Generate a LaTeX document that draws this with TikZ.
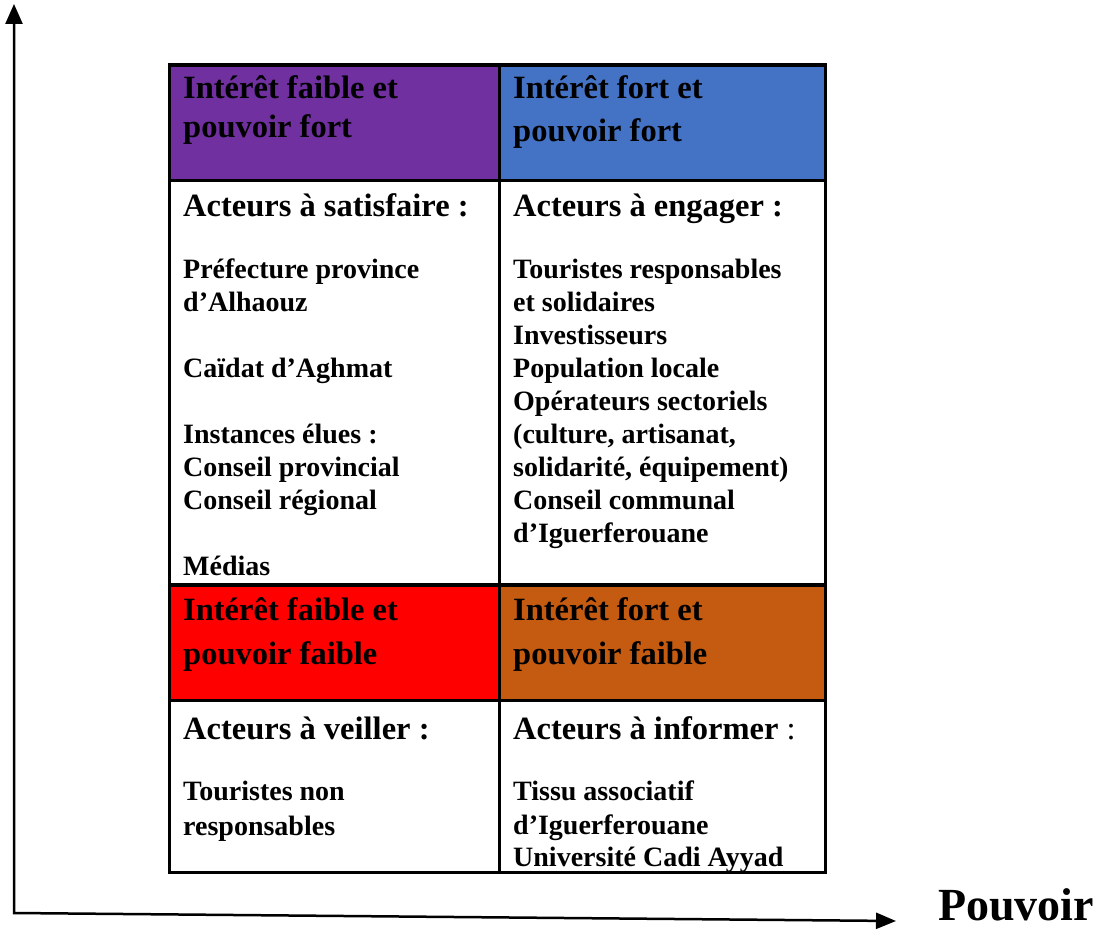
\documentclass[tikz,border=0pt]{standalone}
\usepackage{fontspec}
\setmainfont{Liberation Serif}
\usetikzlibrary{arrows.meta}
\definecolor{cpurple}{HTML}{7030A0}
\definecolor{cblue}{HTML}{4472C4}
\definecolor{cred}{HTML}{FF0000}
\definecolor{cbrown}{HTML}{C55A11}
\begin{document}
\begin{tikzpicture}[x=1pt,y=-1pt,
  cell/.style={draw=black, line width=3.5pt, inner sep=0pt, outer sep=0pt, anchor=north west},
  hd/.style={anchor=base west, inner sep=0pt, font=\fontsize{32.5}{38}\selectfont\bfseries},
  bd/.style={anchor=base west, inner sep=0pt, font=\fontsize{28}{33}\selectfont\bfseries},
  axis/.style={line width=2.5pt, line join=miter, {Triangle[length=20pt,width=17pt]}-{Triangle[length=20pt,width=16pt]}}]
\useasboundingbox (0,0) rectangle (1103,931);
% axes
\coordinate (O) at (14,913);
\coordinate (ytip) at (14,4);
\coordinate (xtip) at (896,921);
\draw[axis] (ytip) -- (O) -- (xtip);
\node[anchor=base west, inner sep=0pt, text depth=0pt, font=\fontsize{46}{54}\selectfont\bfseries] (pouvoir) at (938,920) {Pouvoir};
% cells
\node[cell, fill=cpurple, minimum width=330pt, minimum height=115.5pt] (h1) at (169.5,65) {};
\node[cell, fill=cblue, minimum width=326pt, minimum height=115.5pt] (h2) at (499.5,65) {};
\node[cell, fill=white, minimum width=330pt, minimum height=404.5pt] (b1) at (169.5,180.5) {};
\node[cell, fill=white, minimum width=326pt, minimum height=404.5pt] (b2) at (499.5,180.5) {};
\node[cell, fill=cred, minimum width=330pt, minimum height=115.5pt] (h3) at (169.5,585) {};
\node[cell, fill=cbrown, minimum width=326pt, minimum height=115.5pt] (h4) at (499.5,585) {};
\node[cell, fill=white, minimum width=330pt, minimum height=172pt] (b3) at (169.5,700.5) {};
\node[cell, fill=white, minimum width=326pt, minimum height=172pt] (b4) at (499.5,700.5) {};
% header texts
\node[hd] (h1a) at (183,99) {Intérêt faible et};
\node[hd] (h1b) at (183,138) {pouvoir fort};
\node[hd] (h2a) at (513,99) {Intérêt fort et};
\node[hd] (h2b) at (513,142) {pouvoir fort};
\node[hd] (h3a) at (183,620) {Intérêt faible et};
\node[hd] (h3b) at (183,664) {pouvoir faible};
\node[hd] (h4a) at (513,620) {Intérêt fort et};
\node[hd] (h4b) at (513,664) {pouvoir faible};
% sub-headers
\node[hd] (s1) at (183,216) {Acteurs à satisfaire :};
\node[hd] (s2) at (513,216) {Acteurs à engager :};
\node[hd] (s3) at (183,739) {Acteurs à veiller :};
\node[hd] (s4) at (513,739) {Acteurs à informer {\mdseries :}};
% body texts
\foreach \yy/\tt [count=\i] in {278/{Préfecture province}, 311/{d’Alhaouz}, 377/{Caïdat d’Aghmat},
  443/{Instances élues :}, 476/{Conseil provincial}, 509/{Conseil régional}, 575/{Médias}}
  \node[bd] (l\i) at (183,\yy) {\tt};
\foreach \yy/\tt [count=\i] in {278/{Touristes responsables}, 311/{et solidaires}, 344/{Investisseurs},
  377/{Population locale}, 410/{Opérateurs sectoriels}, 443/{(culture, artisanat,},
  476/{solidarité, équipement)}, 509/{Conseil communal}, 542/{d’Iguerferouane}}
  \node[bd] (r\i) at (513,\yy) {\tt};
\node[bd] (l8) at (183,800) {Touristes non};
\node[bd] (l9) at (183,835) {responsables};
\node[bd] (r10) at (513,800) {Tissu associatif};
\node[bd] (r11) at (513,834) {d’Iguerferouane};
\node[bd] (r12) at (513,866) {Université Cadi Ayyad};
\end{tikzpicture}
\end{document}
